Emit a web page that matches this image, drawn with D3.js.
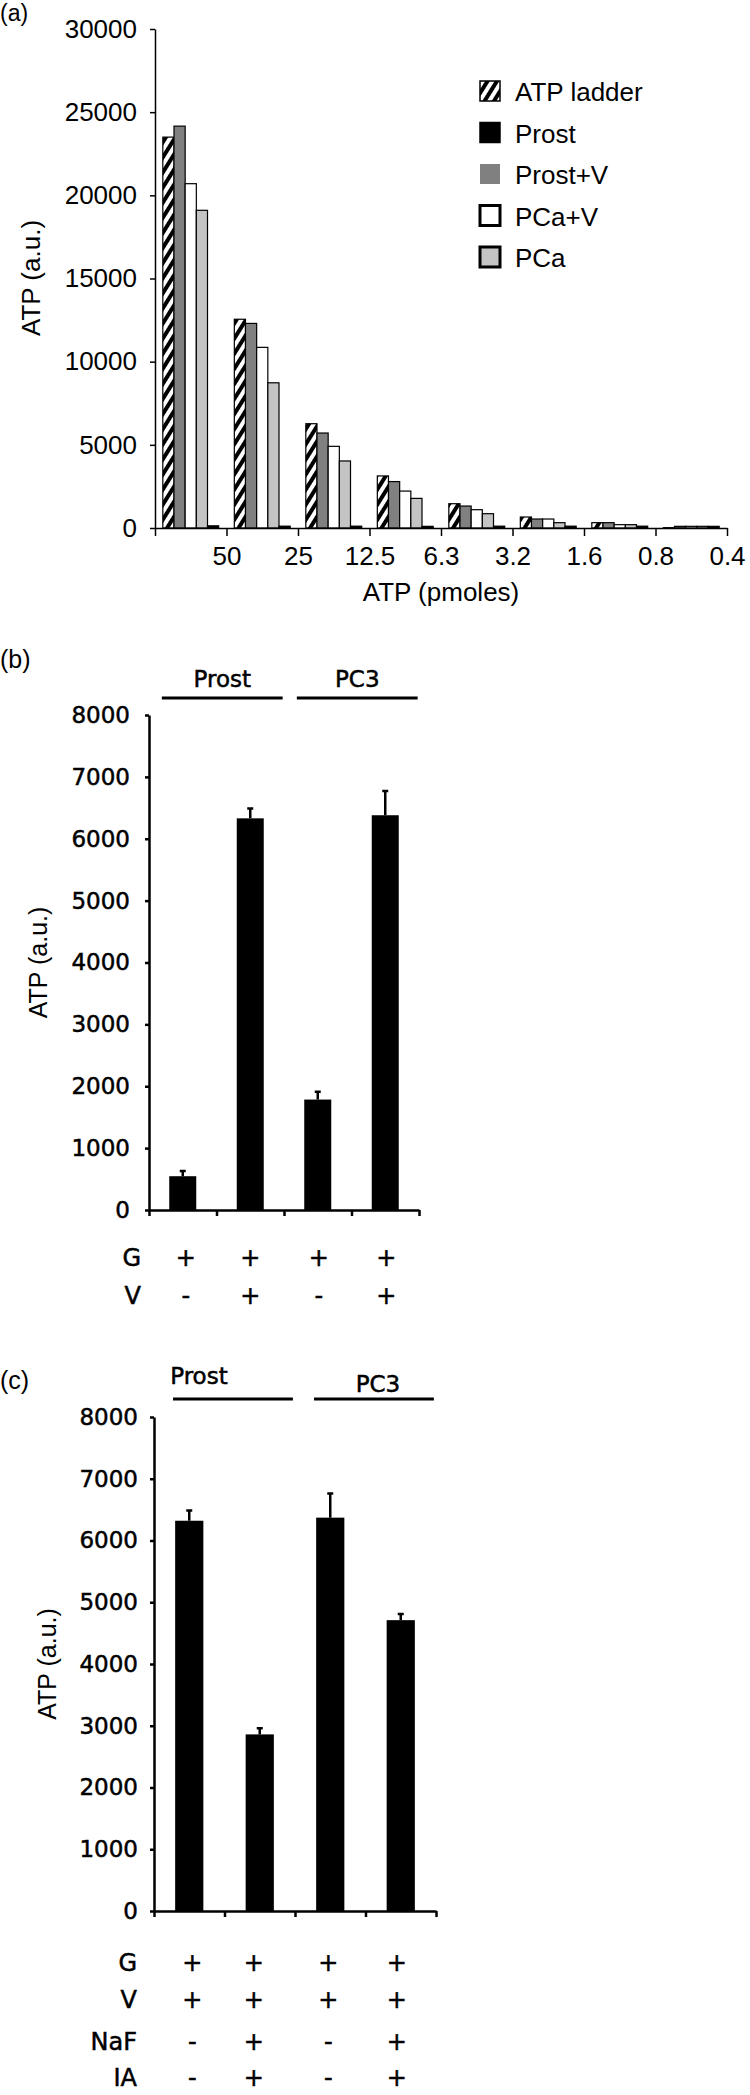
<!DOCTYPE html>
<html>
<head>
<meta charset="utf-8">
<script src="https://cdnjs.cloudflare.com/ajax/libs/d3/7.8.5/d3.min.js"></script>
<style>
body { margin: 0; background: #fff; }
svg { display: block; }
</style>
</head>
<body>
<script>
// (a) ATP ladder
var doses = ["50", "25", "12.5", "6.3", "3.2", "1.6", "0.8", "0.4"];
var seriesA = ["ATP ladder", "Prost+V", "PCa+V", "PCa", "Prost"];
var legendA = ["ATP ladder", "Prost", "Prost+V", "PCa+V", "PCa"];
var ladder = [23500, 12550, 6270, 3130, 1460, 660, 320, 20];
var prostV = [24160, 12300, 5710, 2790, 1320, 540, 320, 100];
var pcaV = [20700, 10860, 4910, 2220, 1100, 540, 200, 100];
var pca = [19100, 8730, 4030, 1780, 860, 320, 200, 100];
var prost = [130, 110, 110, 100, 110, 110, 110, 100];
var ticksA = [0, 5000, 10000, 15000, 20000, 25000, 30000];

// (b) glucose / vanadate
var groupsB = ["Prost", "PC3"];
var barsB = [546, 6330, 1785, 6380];
var errB = [85, 160, 125, 390];
var rowsB = ["G", "V"];
var signsB = [["+", "+", "+", "+"], ["-", "+", "-", "+"]];

// (c) NaF / IA
var groupsC = ["Prost", "PC3"];
var barsC = [6320, 2860, 6370, 4710];
var errC = [165, 100, 390, 100];
var rowsC = ["G", "V", "NaF", "IA"];
var signsC = [["+", "+", "+", "+"], ["+", "+", "+", "+"], ["-", "+", "-", "+"], ["-", "+", "-", "+"]];

var ticksBC = [0, 1000, 2000, 3000, 4000, 5000, 6000, 7000, 8000];

var fontA = "'Liberation Sans', Arial, sans-serif";
var fontB = "'DejaVu Sans', Verdana, sans-serif";

var svg = d3.select("body").append("svg")
    .attr("width", 750)
    .attr("height", 2095);

var hatch = svg.append("defs").append("pattern")
    .attr("id", "hatch")
    .attr("patternUnits", "userSpaceOnUse")
    .attr("width", 8)
    .attr("height", 8)
    .attr("patternTransform", "rotate(32)");
hatch.append("rect").attr("width", 8).attr("height", 8).attr("fill", "#fff");
hatch.append("rect").attr("width", 4).attr("height", 8).attr("fill", "#000");

var fills = {
    "ATP ladder": "url(#hatch)",
    "Prost": "#000",
    "Prost+V": "#808080",
    "PCa+V": "#fff",
    "PCa": "#c4c4c4"
};
var valuesA = {
    "ATP ladder": ladder,
    "Prost": prost,
    "Prost+V": prostV,
    "PCa+V": pcaV,
    "PCa": pca
};

/* ---------- panel (a) ---------- */

var yA = d3.scaleLinear().domain([0, 30000]).range([528, 29]);
var xA = d3.scaleBand().domain(doses).range([155, 727]);
var xA1 = d3.scaleBand().domain(seriesA).range([0, xA.bandwidth()]).paddingOuter(0.7);
var xAt = d3.scaleLinear().domain([0, doses.length]).range([155, 727]);

var gA = svg.append("g");

gA.append("text")
    .attr("x", 0)
    .attr("y", 21)
    .attr("font-family", fontA)
    .attr("font-size", 23)
    .text("(a)");

var groups = gA.selectAll("g.dose")
    .data(doses)
    .enter().append("g")
    .attr("class", "dose")
    .attr("transform", function(d) {
        return "translate(" + xA(d) + ",0)";
    });

groups.selectAll("rect")
    .data(function(d, i) {
        return seriesA.map(function(s) {
            return { s: s, v: valuesA[s][i] };
        });
    })
    .enter().append("rect")
    .attr("x", function(d) { return xA1(d.s); })
    .attr("y", function(d) { return yA(d.v); })
    .attr("width", xA1.bandwidth())
    .attr("height", function(d) { return yA(0) - yA(d.v); })
    .attr("fill", function(d) { return fills[d.s]; })
    .attr("stroke", "#000")
    .attr("stroke-width", 1.2);

var axisAy = gA.append("g")
    .attr("transform", "translate(155,0)")
    .call(d3.axisLeft(yA).tickValues(ticksA).tickFormat(d3.format("d")).tickSize(5).tickPadding(13).tickSizeOuter(0));

var axisAx = gA.append("g")
    .attr("transform", "translate(0,528)")
    .call(d3.axisBottom(xAt).tickValues(d3.range(0, doses.length + 1))
        .tickFormat(function(d) { return d ? doses[d - 1] : ""; })
        .tickSize(8).tickPadding(11).tickSizeOuter(0));

[axisAy, axisAx].forEach(function(a) {
    a.selectAll("path, line").attr("stroke", "#000").attr("stroke-width", 1.5);
    a.selectAll("text").attr("font-family", fontA).attr("font-size", 26).attr("fill", "#000");
});

gA.append("text")
    .attr("transform", "translate(40,278) rotate(-90)")
    .attr("text-anchor", "middle")
    .attr("font-family", fontA)
    .attr("font-size", 26)
    .text("ATP (a.u.)");

gA.append("text")
    .attr("x", 441)
    .attr("y", 601)
    .attr("text-anchor", "middle")
    .attr("font-family", fontA)
    .attr("font-size", 26)
    .text("ATP (pmoles)");

var legend = gA.selectAll("g.legend")
    .data(legendA)
    .enter().append("g")
    .attr("class", "legend")
    .attr("transform", function(d, i) {
        return "translate(479," + (91 + i * 41.5) + ")";
    });

legend.append("rect")
    .attr("x", 1)
    .attr("y", -10)
    .attr("width", 20)
    .attr("height", 20)
    .attr("fill", function(d) { return fills[d]; })
    .attr("stroke", function(d) { return d == "Prost+V" ? "none" : "#000"; })
    .attr("stroke-width", function(d) { return d == "PCa+V" || d == "PCa" ? 3 : 1.5; });

legend.append("text")
    .attr("x", 36)
    .attr("y", 10)
    .attr("font-family", fontA)
    .attr("font-size", 26)
    .text(function(d) { return d; });

/* ---------- panels (b) and (c) ---------- */

// the scanned labels are heavier than DejaVu, so give them a thin outline
function heavy(sel) {
    sel.attr("font-family", fontB)
        .attr("fill", "#000")
        .attr("stroke", "#000")
        .attr("stroke-width", 0.5);
}

function drawPanel(cfg) {
    var g = svg.append("g");
    var y = d3.scaleLinear().domain([0, 8000]).range([cfg.bottom, cfg.top]);
    var x = d3.scaleBand().domain(d3.range(cfg.bars.length)).range([cfg.left, cfg.right]);
    var xt = d3.scaleLinear().domain([0, cfg.bars.length]).range([cfg.left, cfg.right]);
    var bw = x.bandwidth();

    g.append("text")
        .attr("x", 0)
        .attr("y", cfg.labelY)
        .attr("font-family", fontA)
        .attr("font-size", 25)
        .text(cfg.label);

    // group headers
    g.selectAll("line.head")
        .data(cfg.groups)
        .enter().append("line")
        .attr("class", "head")
        .attr("x1", function(d, i) { return x(2 * i) + cfg.lineFrac[0] * bw; })
        .attr("x2", function(d, i) { return x(2 * i + 1) + cfg.lineFrac[1] * bw; })
        .attr("y1", cfg.lineY)
        .attr("y2", cfg.lineY)
        .attr("stroke", "#000")
        .attr("stroke-width", 3);

    g.selectAll("text.head")
        .data(cfg.groups)
        .enter().append("text")
        .attr("class", "head")
        .attr("x", function(d, i) {
            return (x(2 * i) + cfg.lineFrac[0] * bw + x(2 * i + 1) + cfg.lineFrac[1] * bw) / 2 + cfg.headShift[i];
        })
        .attr("y", function(d, i) { return cfg.headY[i]; })
        .attr("text-anchor", "middle")
        .attr("font-size", 23)
        .call(heavy)
        .text(function(d) { return d; });

    g.selectAll("rect.bar")
        .data(cfg.bars)
        .enter().append("rect")
        .attr("class", "bar")
        .attr("x", function(d, i) { return x(i) + bw * 0.3; })
        .attr("y", function(d) { return y(d); })
        .attr("width", bw * 0.4)
        .attr("height", function(d) { return y(0) - y(d); })
        .attr("fill", "#000");

    // error bars, upward only
    g.selectAll("path.err")
        .data(cfg.bars)
        .enter().append("path")
        .attr("class", "err")
        .attr("d", function(d, i) {
            var cx = x(i) + bw / 2,
                top = y(d + cfg.errs[i]);
            return "M" + cx + "," + y(d) + "V" + top + "M" + (cx - 3) + "," + top + "H" + (cx + 3);
        })
        .attr("stroke", "#000")
        .attr("stroke-width", 2.5)
        .attr("fill", "none");

    var ay = g.append("g")
        .attr("transform", "translate(" + cfg.left + ",0)")
        .call(d3.axisLeft(y).tickValues(ticksBC).tickFormat(d3.format("d")).tickSize(4).tickPadding(cfg.tickPad).tickSizeOuter(0));

    var ax = g.append("g")
        .attr("transform", "translate(0," + cfg.bottom + ")")
        .call(d3.axisBottom(xt).tickValues(d3.range(0, cfg.bars.length + 1)).tickFormat("").tickSize(6).tickSizeOuter(0));

    [ay, ax].forEach(function(a) {
        a.selectAll("path, line").attr("stroke", "#000").attr("stroke-width", 2.5);
        a.selectAll("text").attr("font-size", 23).call(heavy);
    });

    g.append("text")
        .attr("transform", "translate(" + cfg.titleX + "," + (cfg.top + cfg.bottom) / 2 + ") rotate(-90)")
        .attr("text-anchor", "middle")
        .attr("font-family", fontA)
        .attr("font-size", 25)
        .text("ATP (a.u.)");

    // treatment rows below the axis
    cfg.rows.forEach(function(name, r) {
        g.append("text")
            .attr("x", cfg.rowLabelX)
            .attr("y", cfg.rowY[r])
            .attr("text-anchor", "end")
            .attr("font-size", 24)
            .call(heavy)
            .text(name);

        g.selectAll("text.sign" + r)
            .data(cfg.signs[r])
            .enter().append("text")
            .attr("class", "sign" + r)
            .attr("x", function(d, i) { return x(i) + bw / 2 + cfg.signShift[i]; })
            .attr("y", cfg.rowY[r])
            .attr("text-anchor", "middle")
            .attr("font-size", 24)
            .call(heavy)
            .text(function(d) { return d; });
    });
}

drawPanel({
    label: "(b)",
    labelY: 668,
    top: 715,
    bottom: 1210,
    left: 149,
    right: 419,
    bars: barsB,
    errs: errB,
    groups: groupsB,
    lineY: 698,
    lineFrac: [0.19, 0.98],
    headY: [687, 687],
    headShift: [0, 0],
    tickPad: 15,
    titleX: 47,
    rows: rowsB,
    signs: signsB,
    rowY: [1266, 1304],
    rowLabelX: 141,
    signShift: [3, 0, 1, 1]
});

drawPanel({
    label: "(c)",
    labelY: 1389,
    top: 1417,
    bottom: 1911,
    left: 154,
    right: 436,
    bars: barsC,
    errs: errC,
    groups: groupsC,
    lineY: 1399,
    lineFrac: [0.27, 0.97],
    headY: [1384, 1392],
    headShift: [-34, 4],
    tickPad: 12,
    titleX: 56,
    rows: rowsC,
    signs: signsC,
    rowY: [1971, 2008, 2050, 2086],
    rowLabelX: 137,
    signShift: [3, -6, -2, -4]
});
</script>
</body>
</html>
